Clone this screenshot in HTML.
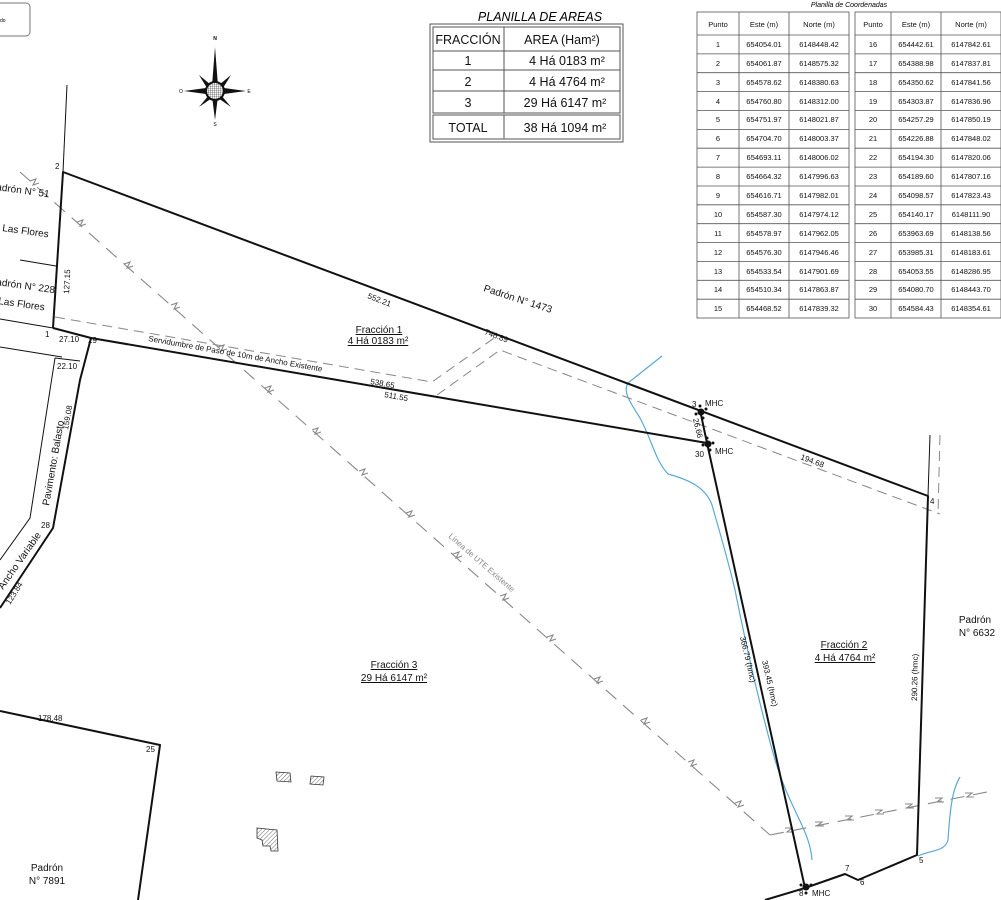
<!DOCTYPE html>
<html><head><meta charset="utf-8"><style>
html,body{margin:0;padding:0;background:#fff;}
svg{display:block;font-family:"Liberation Sans",sans-serif;}
</style></head><body>
<svg width="1001" height="900" viewBox="0 0 1001 900" xmlns="http://www.w3.org/2000/svg">
<defs>
<pattern id="hatch" width="3" height="3" patternUnits="userSpaceOnUse" patternTransform="rotate(45)">
<line x1="0" y1="0" x2="0" y2="3" stroke="#444" stroke-width="0.8"/></pattern>
<pattern id="grid" width="2" height="2" patternUnits="userSpaceOnUse">
<rect width="2" height="2" fill="#fff"/><path d="M0 0H2M0 0V2" stroke="#222" stroke-width="0.6"/></pattern>
</defs>

<rect x="-10" y="3" width="40" height="33" rx="4" fill="none" stroke="#777" stroke-width="1"/>
<text x="0" y="22" font-size="5">do</text>

<g fill="#111">
<polygon points="215,47 218,86 212,86"/>
<polygon points="215,120 218,96 212,96"/>
<polygon points="184,91 206,88 206,94"/>
<polygon points="246,91 224,88 224,94"/>
<polygon points="199,75 211,85 207,88"/>
<polygon points="231,75 219,85 223,88"/>
<polygon points="199,107 209,95 212,98"/>
<polygon points="231,107 221,95 218,98"/>
</g>
<circle cx="215" cy="91" r="9" fill="url(#grid)" stroke="#111" stroke-width="2"/>
<text x="215" y="40" font-size="5" text-anchor="middle" font-weight="bold">N</text>
<text x="215" y="126" font-size="5" text-anchor="middle">S</text>
<text x="181" y="93" font-size="5" text-anchor="middle">O</text>
<text x="249" y="93" font-size="5" text-anchor="middle">E</text>

<text x="540" y="21" font-size="12.5" font-style="italic" text-anchor="middle">PLANILLA DE AREAS</text>
<g fill="none" stroke="#555">
<rect x="430" y="24" width="193" height="118" stroke-width="1"/>
<rect x="433" y="27" width="187" height="86" stroke-width="1"/>
<rect x="433" y="115" width="187" height="24" stroke-width="1"/>
<line x1="504" y1="27" x2="504" y2="113"/>
<line x1="504" y1="115" x2="504" y2="139"/>
<line x1="433" y1="51" x2="620" y2="51"/>
<line x1="433" y1="70" x2="620" y2="70"/>
<line x1="433" y1="91" x2="620" y2="91"/>
</g>
<g font-size="12.5" text-anchor="middle" fill="#111">
<text x="468" y="44">FRACCIÓN</text><text x="562" y="44">AREA (Ham²)</text>
<text x="468" y="65">1</text><text x="567" y="65">4 Há 0183 m²</text>
<text x="468" y="86">2</text><text x="567" y="86">4 Há 4764 m²</text>
<text x="468" y="107">3</text><text x="565" y="107">29 Há 6147 m²</text>
<text x="468" y="132">TOTAL</text><text x="565" y="132">38 Há 1094 m²</text>
</g>

<text x="849" y="7" font-size="7" font-style="italic" text-anchor="middle">Planilla de Coordenadas</text>
<g fill="none" stroke="#555" stroke-width="0.8">
<rect x="697" y="12" width="152" height="306"/>
<rect x="855" y="12" width="146" height="306"/>
<path d="M739 12V318M789 12V318M891 12V318M941 12V318"/>
<path d="M697 35H849M697 53.9H849M697 72.7H849M697 91.6H849M697 110.5H849M697 129.4H849M697 148.2H849M697 167.1H849M697 186H849M697 204.8H849M697 223.7H849M697 242.6H849M697 261.4H849M697 280.3H849M697 299.2H849"/>
<path d="M855 35H1001M855 53.9H1001M855 72.7H1001M855 91.6H1001M855 110.5H1001M855 129.4H1001M855 148.2H1001M855 167.1H1001M855 186H1001M855 204.8H1001M855 223.7H1001M855 242.6H1001M855 261.4H1001M855 280.3H1001M855 299.2H1001"/>
</g>
<g font-size="7.5" text-anchor="middle" fill="#111">
<text x="718" y="27">Punto</text><text x="764" y="27">Este (m)</text><text x="819" y="27">Norte (m)</text>
<text x="873" y="27">Punto</text><text x="916" y="27">Este (m)</text><text x="971" y="27">Norte (m)</text>
</g>
<g font-size="7.5" text-anchor="middle" fill="#111">
<text x="718" y="47">1</text><text x="764" y="47">654054.01</text><text x="819" y="47">6148448.42</text>
<text x="718" y="66">2</text><text x="764" y="66">654061.87</text><text x="819" y="66">6148575.32</text>
<text x="718" y="85">3</text><text x="764" y="85">654578.62</text><text x="819" y="85">6148380.63</text>
<text x="718" y="104">4</text><text x="764" y="104">654760.80</text><text x="819" y="104">6148312.00</text>
<text x="718" y="122">5</text><text x="764" y="122">654751.97</text><text x="819" y="122">6148021.87</text>
<text x="718" y="141">6</text><text x="764" y="141">654704.70</text><text x="819" y="141">6148003.37</text>
<text x="718" y="160">7</text><text x="764" y="160">654693.11</text><text x="819" y="160">6148006.02</text>
<text x="718" y="179">8</text><text x="764" y="179">654664.32</text><text x="819" y="179">6147996.63</text>
<text x="718" y="198">9</text><text x="764" y="198">654616.71</text><text x="819" y="198">6147982.01</text>
<text x="718" y="217">10</text><text x="764" y="217">654587.30</text><text x="819" y="217">6147974.12</text>
<text x="718" y="236">11</text><text x="764" y="236">654578.97</text><text x="819" y="236">6147962.05</text>
<text x="718" y="255">12</text><text x="764" y="255">654576.30</text><text x="819" y="255">6147946.46</text>
<text x="718" y="274">13</text><text x="764" y="274">654533.54</text><text x="819" y="274">6147901.69</text>
<text x="718" y="292">14</text><text x="764" y="292">654510.34</text><text x="819" y="292">6147863.87</text>
<text x="718" y="311">15</text><text x="764" y="311">654468.52</text><text x="819" y="311">6147839.32</text>
<text x="873" y="47">16</text><text x="916" y="47">654442.61</text><text x="971" y="47">6147842.61</text>
<text x="873" y="66">17</text><text x="916" y="66">654388.98</text><text x="971" y="66">6147837.81</text>
<text x="873" y="85">18</text><text x="916" y="85">654350.62</text><text x="971" y="85">6147841.56</text>
<text x="873" y="104">19</text><text x="916" y="104">654303.87</text><text x="971" y="104">6147836.96</text>
<text x="873" y="122">20</text><text x="916" y="122">654257.29</text><text x="971" y="122">6147850.19</text>
<text x="873" y="141">21</text><text x="916" y="141">654226.88</text><text x="971" y="141">6147848.02</text>
<text x="873" y="160">22</text><text x="916" y="160">654194.30</text><text x="971" y="160">6147820.06</text>
<text x="873" y="179">23</text><text x="916" y="179">654189.60</text><text x="971" y="179">6147807.16</text>
<text x="873" y="198">24</text><text x="916" y="198">654098.57</text><text x="971" y="198">6147823.43</text>
<text x="873" y="217">25</text><text x="916" y="217">654140.17</text><text x="971" y="217">6148111.90</text>
<text x="873" y="236">26</text><text x="916" y="236">653963.69</text><text x="971" y="236">6148138.56</text>
<text x="873" y="255">27</text><text x="916" y="255">653985.31</text><text x="971" y="255">6148183.61</text>
<text x="873" y="274">28</text><text x="916" y="274">654053.55</text><text x="971" y="274">6148286.95</text>
<text x="873" y="292">29</text><text x="916" y="292">654080.70</text><text x="971" y="292">6148443.70</text>
<text x="873" y="311">30</text><text x="916" y="311">654584.43</text><text x="971" y="311">6148354.61</text>
</g>

<g stroke="#888" stroke-width="1.1" fill="none">
<line x1="20" y1="172" x2="770" y2="835" stroke-dasharray="14,9"/>
<line x1="770" y1="835" x2="987" y2="792" stroke-dasharray="14,9"/>
<path d="M30 181l6-2-3 6 6-2M77 222l6-2-3 6 6-2M124 264l6-2-3 6 6-2M171 305l6-2-3 6 6-2M218 347l6-2-3 6 6-2M265 388l6-2-3 6 6-2M312 430l6-2-3 6 6-2M359 471l6-2-3 6 6-2M406 513l6-2-3 6 6-2M453 554l6-2-3 6 6-2M500 596l6-2-3 6 6-2M547 637l6-2-3 6 6-2M594 679l6-2-3 6 6-2M641 720l6-2-3 6 6-2M688 762l6-2-3 6 6-2M735 803l6-2-3 6 6-2"/>
<path d="M785 828l7 0-5 4 7 0M815 822l7 0-5 4 7 0M845 816l7 0-5 4 7 0M875 810l7 0-5 4 7 0M905 804l7 0-5 4 7 0M935 798l7 0-5 4 7 0M965 793l7 0-5 4 7 0"/>
</g>
<text x="0" y="0" font-size="8" fill="#888" transform="translate(448,537) rotate(41)">Línea de UTE Existente</text>

<g stroke="#5aa9d6" stroke-width="1.2" fill="none">
<path d="M662 356 L628 383 C622 392 632 405 640 418 C652 440 655 460 668 474 C690 480 706 488 712 505 C722 540 728 560 735 590 C745 640 758 700 775 760 C790 810 810 830 812 860"/>
<path d="M960 777 C952 790 950 810 948 840 C945 852 930 850 918 856"/>
</g>

<g stroke="#888" stroke-width="1" fill="none" stroke-dasharray="10,6">
<path d="M55 317 L432 382 L497 336"/>
<path d="M437 395 L500 350 L940 514"/>
<line x1="940" y1="435" x2="938" y2="514"/>
</g>

<g stroke="#111" stroke-width="2" fill="none" stroke-linejoin="round">
<path d="M53 328 L63 172 L928 496 L917 855 L858 880 L845 874 L805 888 L765 900"/>
<path d="M700 410 L707 443 L805 888"/>
<path d="M91 338 L707 443"/>
<path d="M53 328 L91 338 L80 380 L53 528 L0 608"/>
<path d="M0 711 L160 745 L138 900"/>
</g>
<g stroke="#111" stroke-width="1" fill="none">
<line x1="63" y1="172" x2="67" y2="85"/>
<line x1="0" y1="319" x2="53" y2="328"/>
<line x1="20" y1="260" x2="56" y2="266"/>
<line x1="928" y1="496" x2="930" y2="435"/>
<path d="M0 347 L62 357"/>
<path d="M55 358 L30 518 L0 560"/>
<line x1="55" y1="358" x2="80" y2="361"/>
</g>

<g fill="#111">
<circle cx="701" cy="412" r="3.5"/><circle cx="708" cy="444" r="3.5"/><circle cx="806" cy="887" r="3.5"/>
<circle cx="696" cy="414" r="1.5"/><circle cx="706" cy="409" r="1.5"/><circle cx="700" cy="406" r="1.5"/><circle cx="703" cy="418" r="1.5"/>
<circle cx="703" cy="445" r="1.5"/><circle cx="713" cy="443" r="1.5"/><circle cx="707" cy="438" r="1.5"/><circle cx="710" cy="450" r="1.5"/>
<circle cx="801" cy="885" r="1.5"/><circle cx="811" cy="885" r="1.5"/><circle cx="806" cy="893" r="1.5"/>
</g>

<g stroke="#333" stroke-width="0.8" fill="url(#hatch)">
<polygon points="276,772 290,773 291,782 277,781"/>
<polygon points="311,776 324,777 323,785 310,784"/>
<polygon points="257,828 277,830 278,851 271,851 270,846 263,846 262,840 257,838"/>
</g>

<g font-size="8" fill="#111">
<text x="55" y="169">2</text>
<text x="45" y="337">1</text>
<text x="88" y="343">29</text>
<text x="59" y="342">27.10</text>
<text x="57" y="369">22.10</text>
<text x="41" y="528">28</text>
<text x="146" y="752">25</text>
<text x="692" y="407">3</text>
<text x="705" y="406">MHC</text>
<text x="695" y="457">30</text>
<text x="715" y="454">MHC</text>
<text x="930" y="504">4</text>
<text x="919" y="863">5</text>
<text x="860" y="885">6</text>
<text x="845" y="871">7</text>
<text x="799" y="896">8</text>
<text x="812" y="896">MHC</text>
<text x="38" y="721">178.48</text>
</g>
<g font-size="8" fill="#111">
<text transform="translate(69,294) rotate(-87)">127.15</text>
<text transform="translate(367,298) rotate(21)">552.21</text>
<text transform="translate(484,334) rotate(21)">746.89</text>
<text transform="translate(370,384) rotate(10)">538.65</text>
<text transform="translate(384,397) rotate(10)">511.55</text>
<text transform="translate(148,341) rotate(10)">Servidumbre de Paso de 10m de Ancho Existente</text>
<text transform="translate(693,419) rotate(77)">26.66</text>
<text transform="translate(800,459) rotate(21)">194.68</text>
<text transform="translate(68,430) rotate(-80)">159.08</text>
<text transform="translate(10,605) rotate(-58)">123.84</text>
<text transform="translate(740,637) rotate(77)">366.79 (hmc)</text>
<text transform="translate(762,661) rotate(77)">393.45 (hmc)</text>
<text transform="translate(917,701) rotate(-89)">290.26 (hmc)</text>
</g>
<g font-size="10" fill="#111">
<text transform="translate(49,506) rotate(-80)">Pavimento: Balasto</text>
<text transform="translate(3,590) rotate(-55)">Ancho Variable</text>
<text transform="translate(483,291) rotate(18)">Padrón N° 1473</text>
<text transform="translate(-4,190) rotate(8)">adrón N° 51</text>
<text transform="translate(2,231) rotate(8)">Las Flores</text>
<text transform="translate(-4,285) rotate(8)">adrón N° 228</text>
<text transform="translate(-2,304) rotate(8)">Las Flores</text>
</g>
<g font-size="10" fill="#111" text-anchor="middle">
<text x="975" y="623">Padrón</text><text x="977" y="636">N° 6632</text>
<text x="47" y="871">Padrón</text><text x="47" y="884">N° 7891</text>
<text x="379" y="333" text-decoration="underline">Fracción 1</text>
<text x="378" y="344" text-decoration="underline">4 Há 0183 m²</text>
<text x="844" y="648" text-decoration="underline">Fracción 2</text>
<text x="845" y="661" text-decoration="underline">4 Há 4764 m²</text>
<text x="394" y="668" text-decoration="underline">Fracción 3</text>
<text x="394" y="681" text-decoration="underline">29 Há 6147 m²</text>
</g>
</svg>
</body></html>
